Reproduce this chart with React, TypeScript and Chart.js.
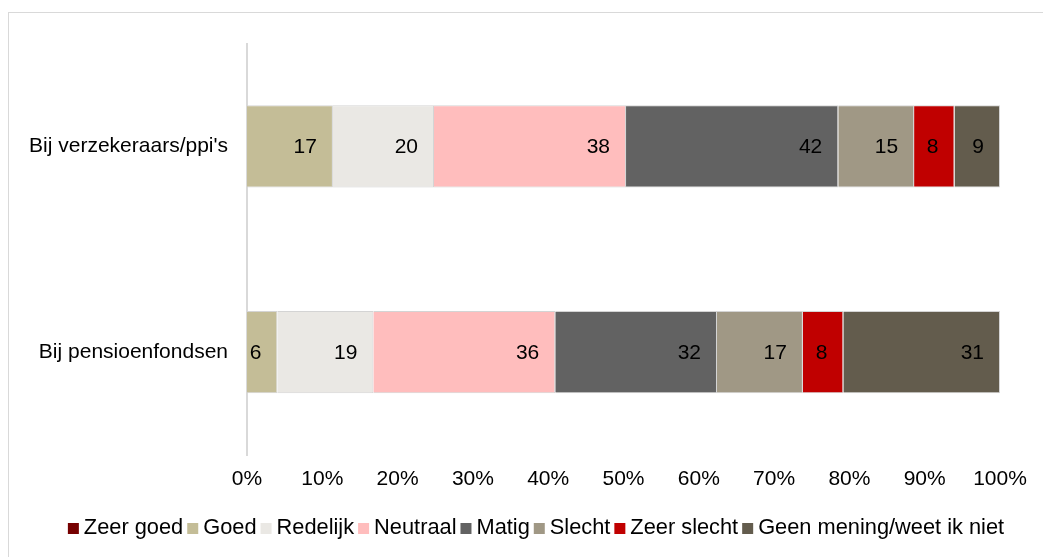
import React, { useEffect, useRef } from "react";
import { Chart, registerables } from "chart.js";

Chart.register(...registerables);

const categories = ["Bij verzekeraars/ppi's", "Bij pensioenfondsen"];
const seriesNames = [
  "Zeer goed",
  "Goed",
  "Redelijk",
  "Neutraal",
  "Matig",
  "Slecht",
  "Zeer slecht",
  "Geen mening/weet ik niet",
];
const zeerGoed = [0, 0];
const goed = [17, 6];
const redelijk = [20, 19];
const neutraal = [38, 36];
const matig = [42, 32];
const slecht = [15, 17];
const zeerSlecht = [8, 8];
const geenMening = [9, 31];
const xTicks = [0, 10, 20, 30, 40, 50, 60, 70, 80, 90, 100];
const colors = ["#760000", "#C4BD97", "#EAE8E4", "#FFBDBD", "#626262", "#A09885", "#C00000", "#635C4D"];

const FONT = "'Liberation Sans', Arial, sans-serif";
const FS = 21;

export default function App() {
  const ref = useRef<HTMLCanvasElement | null>(null);
  useEffect(() => {
    const series = [zeerGoed, goed, redelijk, neutraal, matig, slecht, zeerSlecht, geenMening];
    const totals = categories.map((_, i) => series.reduce((s, arr) => s + arr[i], 0));
    const labelPlugin = {
      id: "labels",
      afterDatasetsDraw(chart: any) {
        const ctx = chart.ctx;
        ctx.save();
        ctx.font = `${FS}px ${FONT}`;
        ctx.fillStyle = "#000";
        ctx.textAlign = "right";
        ctx.textBaseline = "middle";
        chart.data.datasets.forEach((ds: any, di: number) => {
          const meta = chart.getDatasetMeta(di);
          meta.data.forEach((bar: any, i: number) => {
            const v = ds.counts[i];
            if (!v) return;
            ctx.fillText(String(v), bar.x - 16, bar.y + 1);
          });
        });
        ctx.restore();
      },
    };
    const legendPlugin = {
      id: "customLegend",
      afterDraw(chart: any) {
        const ctx = chart.ctx;
        ctx.save();
        ctx.font = `21.8px ${FONT}`;
        const box = 11;
        const gapText = 5;
        const gapItem = 4;
        const widths = seriesNames.map((n) => ctx.measureText(n).width);
        const total = widths.reduce((s, w) => s + box + gapText + w, 0) + gapItem * (seriesNames.length - 1);
        let x = 528 - total / 2;
        const yText = 516;
        ctx.textBaseline = "middle";
        ctx.textAlign = "left";
        seriesNames.forEach((n, i) => {
          ctx.fillStyle = colors[i];
          ctx.fillRect(x, yText - 5, box, box);
          x += box + gapText;
          ctx.fillStyle = "#000";
          ctx.fillText(n, x, yText);
          x += widths[i] + gapItem;
        });
        ctx.restore();
      },
    };
    const chart = new Chart(ref.current as HTMLCanvasElement, {
      type: "bar",
      data: {
        labels: categories,
        datasets: series.map((arr, si) => ({
          label: seriesNames[si],
          data: arr.map((v, i) => (v / totals[i]) * 100),
          counts: arr,
          backgroundColor: colors[si],
          borderColor: "#D4D4D4",
          borderWidth: 1,
          barPercentage: 1,
          categoryPercentage: 0.4,
        })) as any,
      },
      options: {
        indexAxis: "y",
        animation: false,
        responsive: false,
        devicePixelRatio: 1,
        layout: { padding: { top: 27, right: 64, left: 0, bottom: 62 } },
        plugins: { legend: { display: false }, tooltip: { enabled: false } },
        scales: {
          x: {
            stacked: true,
            min: 0,
            max: 100,
            afterFit: (s: any) => {
              s.height = 40;
            },
            afterBuildTicks: (s: any) => {
              s.ticks = xTicks.map((v) => ({ value: v }));
            },
            grid: { display: false, drawTicks: false },
            border: { display: false },
            ticks: {
              padding: 12,
              color: "#000",
              font: { family: FONT, size: FS },
              callback: (v: any) => v + "%",
            },
          },
          y: {
            stacked: true,
            afterFit: (s: any) => {
              s.width = 239;
            },
            grid: { display: false, drawTicks: false },
            border: { display: true, color: "#D9D9D9", width: 2 },
            ticks: {
              padding: 19,
              color: "#000",
              font: { family: FONT, size: FS },
            },
          },
        },
      } as any,
      plugins: [labelPlugin, legendPlugin],
    });
    return () => chart.destroy();
  }, []);
  return (
    <>
      <div
        style={{
          position: "fixed",
          left: 8,
          top: 12,
          width: 1100,
          height: 600,
          border: "1px solid #D9D9D9",
          pointerEvents: "none",
        }}
      />
      <div style={{ position: "fixed", left: 8, top: 12, width: 1056, height: 545 }}>
        <canvas ref={ref} width={1056} height={545} style={{ display: "block" }} />
      </div>
    </>
  );
}
